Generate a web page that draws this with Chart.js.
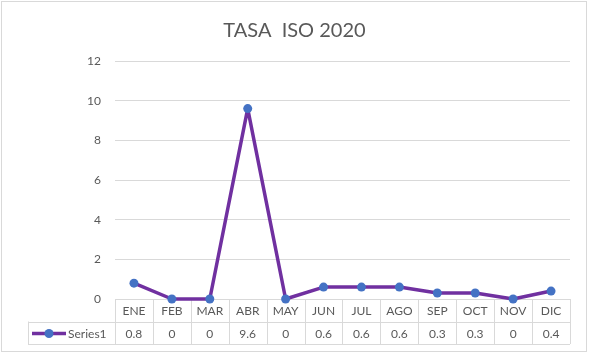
<!DOCTYPE html>
<html>
<head>
<meta charset="utf-8">
<script src="https://cdn.jsdelivr.net/npm/chart.js@4"></script>
<style>
  html, body { margin: 0; padding: 0; background: #fff; }
  #wrap { width: 589px; height: 354px; }
</style>
</head>
<body>
<div id="wrap"><canvas id="isoChart"></canvas></div>
<script>
// 데이터
const months = ['ENE', 'FEB', 'MAR', 'ABR', 'MAY', 'JUN', 'JUL', 'AGO', 'SEP', 'OCT', 'NOV', 'DIC'];
const tasa = [0.8, 0, 0, 9.6, 0, 0.6, 0.6, 0.6, 0.3, 0.3, 0, 0.4];
const seriesName = 'Series1';
const titleText = 'TASA  ISO 2020';

const FONT = 'Lato, "Open Sans", sans-serif';
const TEXT_COLOR = '#595959';
const GRID_COLOR = '#d9d9d9';
const LINE_COLOR = '#7030a0';
const MARKER_COLOR = '#4472c4';

// 제목 (캔버스 전체 폭 기준 가운데 정렬)
const titlePlugin = {
    id: 'centerTitle',
    afterDraw(chart) {
        const ctx = chart.ctx;
        ctx.save();
        ctx.fillStyle = TEXT_COLOR;
        ctx.font = '20px ' + FONT;
        ctx.textAlign = 'center';
        ctx.textBaseline = 'middle';
        ctx.fillText(titleText, chart.width / 2, 31);
        ctx.restore();
    }
};

// 아래 데이터 테이블 그리기 (선보다 먼저 그림)
const dataTablePlugin = {
    id: 'dataTable',
    beforeDatasetsDraw(chart) {
        const ctx = chart.ctx;
        const x = chart.scales.x;
        const area = chart.chartArea;
        const rowH = 22.5;
        const top = area.bottom;
        const mid = top + rowH;
        const bot = mid + rowH;
        const legendLeft = 28;
        const step = x.getPixelForValue(1) - x.getPixelForValue(0);

        ctx.save();
        ctx.strokeStyle = GRID_COLOR;
        ctx.lineWidth = 1;
        ctx.beginPath();
        ctx.moveTo(legendLeft, Math.round(mid) + 0.5);
        ctx.lineTo(area.right, Math.round(mid) + 0.5);
        ctx.moveTo(legendLeft, Math.round(bot) + 0.5);
        ctx.lineTo(area.right, Math.round(bot) + 0.5);
        ctx.moveTo(legendLeft + 0.5, mid);
        ctx.lineTo(legendLeft + 0.5, bot);
        for (let i = 0; i <= months.length; i++) {
            const px = Math.round(x.getPixelForValue(0) - step / 2 + i * step) + 0.5;
            ctx.moveTo(px, top);
            ctx.lineTo(px, bot);
        }
        ctx.stroke();

        ctx.fillStyle = TEXT_COLOR;
        ctx.font = '12px ' + FONT;
        ctx.textAlign = 'center';
        ctx.textBaseline = 'middle';
        months.forEach(function (m, i) {
            const cx = x.getPixelForValue(i);
            ctx.fillText(m, cx, top + rowH / 2 + 1);
            ctx.fillText(String(tasa[i]), cx, mid + rowH / 2 + 1);
        });

        // 범례 키
        const ly = Math.round(mid + rowH / 2) + 0.5;
        ctx.strokeStyle = LINE_COLOR;
        ctx.lineWidth = 3.5;
        ctx.beginPath();
        ctx.moveTo(32, ly);
        ctx.lineTo(66, ly);
        ctx.stroke();
        ctx.fillStyle = MARKER_COLOR;
        ctx.beginPath();
        ctx.arc(49, ly, 4.5, 0, Math.PI * 2);
        ctx.fill();
        ctx.fillStyle = TEXT_COLOR;
        ctx.textAlign = 'left';
        ctx.fillText(seriesName, 68, mid + rowH / 2 + 1);

        // 바깥 테두리
        ctx.strokeStyle = GRID_COLOR;
        ctx.lineWidth = 1;
        ctx.strokeRect(1.5, 1.5, 585, 350);
        ctx.restore();
    }
};

const ctx = document.getElementById('isoChart').getContext('2d');
new Chart(ctx, {
    type: 'line',
    data: {
        labels: months,
        datasets: [{
            label: seriesName,
            data: tasa,
            borderColor: LINE_COLOR,
            borderWidth: 3.5,
            borderJoinStyle: 'round',
            borderCapStyle: 'round',
            backgroundColor: MARKER_COLOR,
            pointBackgroundColor: MARKER_COLOR,
            pointBorderColor: MARKER_COLOR,
            pointRadius: 4.5,
            pointBorderWidth: 0,
            tension: 0,
            fill: false,
            clip: false
        }]
    },
    options: {
        responsive: true,
        maintainAspectRatio: false,
        animation: false,
        layout: {
            padding: { left: 0, right: 19, top: 61, bottom: 55 }
        },
        plugins: {
            legend: { display: false },
            tooltip: { enabled: false },
            title: { display: false }
        },
        scales: {
            x: {
                display: false,
                offset: true
            },
            y: {
                min: 0,
                max: 12,
                ticks: {
                    stepSize: 2,
                    color: TEXT_COLOR,
                    font: { family: FONT, size: 12 },
                    padding: 14
                },
                grid: {
                    color: GRID_COLOR,
                    lineWidth: 1,
                    drawTicks: false
                },
                border: { display: false },
                afterFit: function (scale) {
                    scale.width = 115;
                }
            }
        }
    },
    plugins: [titlePlugin, dataTablePlugin]
});
</script>
</body>
</html>
